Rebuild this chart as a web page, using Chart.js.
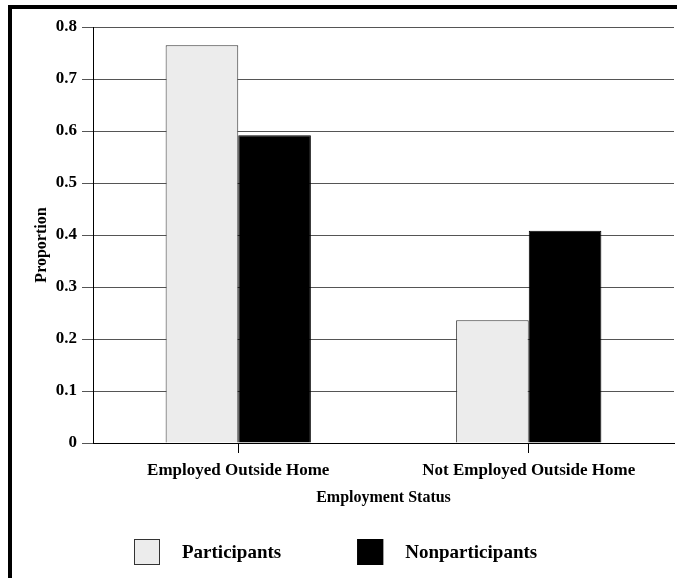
<!DOCTYPE html>
<html>
<head>
<meta charset="utf-8">
<script src="https://cdn.jsdelivr.net/npm/chart.js@4/dist/chart.umd.min.js"></script>
<style>
  html, body { margin:0; padding:0; background:#fff; }
  #wrap { position:relative; width:677px; height:578px; }
  #frame { position:absolute; left:8px; top:5px; right:-10px; bottom:-10px;
           border-top:4px solid #000; border-left:4px solid #000; pointer-events:none; }
  canvas { position:absolute; left:0; top:0; }
</style>
</head>
<body>
<div id="wrap">
  <canvas id="chart" width="677" height="578"></canvas>
  <div id="frame"></div>
</div>
<script>
const categories = ['Employed Outside Home', 'Not Employed Outside Home'];
const participants = [0.765, 0.236];
const nonparticipants = [0.592, 0.408];
const seriesNames = ['Participants', 'Nonparticipants'];
const yTicks = { min: 0, max: 0.8, step: 0.1 };
const yTitle = 'Proportion';

const FONT = "'Liberation Serif', 'Times New Roman', serif";

// y title sits a bit below the middle in the original, so draw it by hand
const yTitlePlugin = {
  id: 'yTitlePlugin',
  afterDraw(chart){
    const ctx = chart.ctx, a = chart.chartArea;
    ctx.save();
    ctx.translate(42, (a.top + a.bottom) / 2 + 10);
    ctx.rotate(-Math.PI / 2);
    ctx.font = 'bold 16px ' + FONT;
    ctx.fillStyle = '#000';
    ctx.textAlign = 'center';
    ctx.textBaseline = 'middle';
    ctx.fillText(yTitle, 0, 0);
    ctx.restore();
  }
};

// legend drawn under the axis title, boxes + bold labels
const bottomLegend = {
  id: 'bottomLegend',
  afterDraw(chart){
    const ctx = chart.ctx;
    const box = 26, gap = 22, itemGap = 76;
    ctx.save();
    ctx.font = 'bold 19px ' + FONT;
    const items = chart.data.datasets.map(ds => ({
      label: ds.label, fill: ds.backgroundColor, stroke: ds.borderColor,
      w: box + gap + ctx.measureText(ds.label).width
    }));
    const total = items.reduce((s, it) => s + it.w, 0) + itemGap * (items.length - 1);
    let x = Math.round(chart.width / 2 - 3 - total / 2);
    const cy = chart.height - 26;
    items.forEach(it => {
      ctx.fillStyle = it.fill;
      ctx.fillRect(x, cy - box / 2, box, box);
      ctx.strokeStyle = it.stroke;
      ctx.lineWidth = 1;
      ctx.strokeRect(x + 0.5, cy - box / 2 + 0.5, box - 1, box - 1);
      ctx.fillStyle = '#000';
      ctx.textBaseline = 'middle';
      ctx.textAlign = 'left';
      ctx.fillText(it.label, x + box + gap, cy + 1);
      x += it.w + itemGap;
    });
    ctx.restore();
  }
};

const ctx = document.getElementById('chart').getContext('2d');
new Chart(ctx, {
  type: 'bar',
  data: {
    labels: categories,
    datasets: [
      { label: seriesNames[0], data: participants, backgroundColor: '#ececec', borderColor: '#333', borderWidth: 1 },
      { label: seriesNames[1], data: nonparticipants, backgroundColor: '#000', borderColor: '#000', borderWidth: 1 }
    ]
  },
  options: {
    responsive: false,
    animation: false,
    layout: { padding: { left: 22, top: 27, right: 3, bottom: 70 } },
    categoryPercentage: 0.5,
    barPercentage: 1.0,
    plugins: { legend: { display: false }, tooltip: { enabled: false } },
    scales: {
      x: {
        afterFit(scale){ scale.height = 65; },
        grid: { offset: false, drawOnChartArea: false, drawTicks: true, tickLength: 10, tickColor: '#000' },
        border: { color: '#000', width: 1 },
        ticks: { color: '#000', padding: 7, maxRotation: 0, font: { family: FONT, size: 17, weight: 'bold' } },
        title: { display: true, text: 'Employment Status', color: '#000', padding: { top: 0, bottom: 1 },
                 font: { family: FONT, size: 16, weight: 'bold' } }
      },
      y: {
        min: yTicks.min, max: yTicks.max,
        afterFit(scale){ scale.width = 71; },
        grid: { color: '#555', tickColor: '#555', tickLength: 11, lineWidth: 1 },
        border: { color: '#000', width: 1 },
        ticks: { stepSize: yTicks.step, color: '#000', padding: 5, font: { family: FONT, size: 17, weight: 'bold' } },
        title: { display: false }
      }
    }
  },
  plugins: [yTitlePlugin, bottomLegend]
});
</script>
</body>
</html>
